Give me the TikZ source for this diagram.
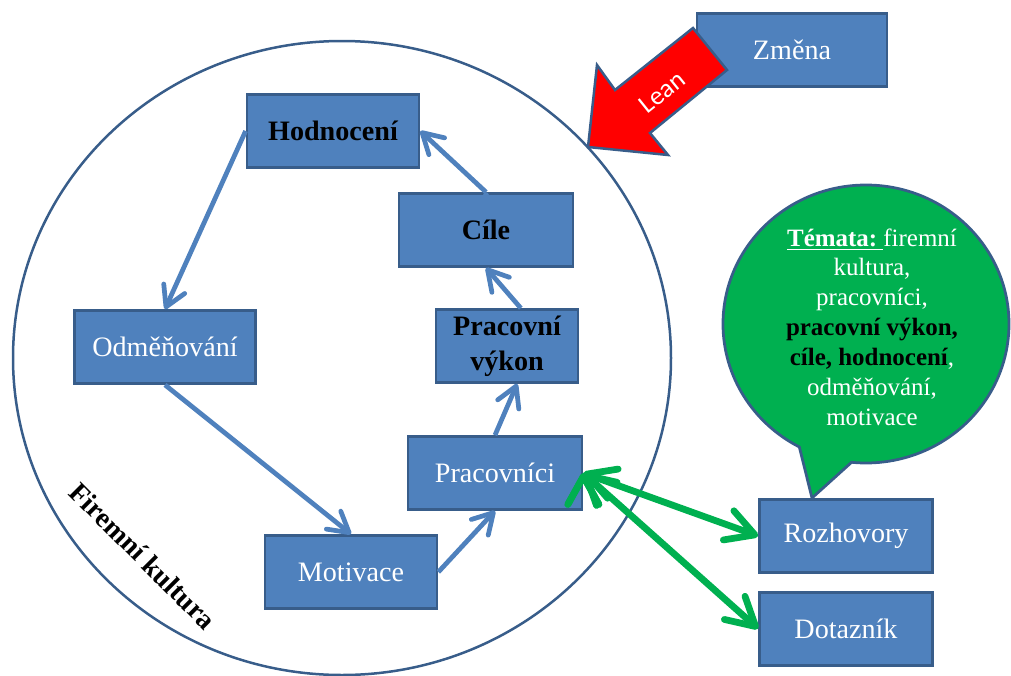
\documentclass[tikz,border=0pt]{standalone}
\usepackage{fontspec}
\setmainfont{Liberation Serif}
\newfontfamily\leanfont{Carlito}
\usetikzlibrary{positioning, arrows.meta, shapes.geometric, shapes.callouts}

\definecolor{boxfill}{HTML}{4F81BD}
\definecolor{boxline}{HTML}{385D8A}
\definecolor{talkgreen}{HTML}{00B050}

\begin{document}
\begin{tikzpicture}[
    x=0.2mm, y=-0.2mm,
    node distance=3.4mm,
    box/.style={draw=boxline, fill=boxfill, line width=0.55mm, minimum height=14.6mm,
        text=white, font=\fontsize{16}{20}\selectfont, align=center},
    keybox/.style={box, text=black, font=\fontsize{16}{20}\selectfont\bfseries},
    flow/.style={draw=boxfill, line width=0.95mm, -{Straight Barb[length=4mm, width=4.6mm, round]}},
    survey/.style={draw=talkgreen, line width=1.35mm,
        {Straight Barb[length=5.6mm, width=6.2mm, round]}-{Straight Barb[length=5.6mm, width=6.2mm, round]}}
]
    \useasboundingbox (0,0) rectangle (1011,676);

    % Culture
    \draw[boxline, line width=0.5mm] (342,358) ellipse [x radius=329, y radius=317];
    \node[rotate=-45, font=\fontsize{16}{20}\selectfont\bfseries] (kultura) at (143,556) {Firemní kultura};

    % Cycle
    \node[keybox, minimum width=34.4mm] (hod) at (333,131) {Hodnocení};
    \node[box, minimum width=36.2mm] (odm) at (165,347) {Odměňování};
    \node[box, minimum width=34.4mm] (mot) at (351,572) {Motivace};
    \node[box, minimum width=34.8mm] (prac) at (495,473) {Pracovníci};
    \node[keybox, minimum width=28.4mm] (vykon) at (507,346) {Pracovní\\výkon};
    \node[keybox, minimum width=34.8mm] (cile) at (486,230) {Cíle};

    % Research
    \node[box, minimum width=34.6mm] (roz) at (846,536) {Rozhovory};
    \node[box, minimum width=34.6mm, below=of roz] (dot) {Dotazník};

    % Topics
    \coordinate (tip) at (812,498);
    \node[ellipse callout, draw=boxline, fill=talkgreen, line width=0.55mm,
        minimum width=57.2mm, minimum height=55.6mm,
        callout absolute pointer=(tip), callout pointer arc=22] (bubble) at (866,324) {};
    \node[align=center, text=white, font=\fontsize{14.2}{17}\selectfont] (temata) at (872,327)
        {\underline{\textbf{Témata:}\ }firemní\\kultura,\\pracovníci,\\
         {\color{black}\bfseries pracovní výkon,}\\{\color{black}\bfseries cíle, hodnocení},\\
         odměňování,\\motivace};

    % Change
    \node[box, minimum width=38mm] (zmena) at (792,50) {Změna};
    \draw[boxline, line width=0.5mm, fill=red]
        (693,28) -- (727,70) -- (650,133) -- (668,155) -- (588,147) -- (597,65) -- (615,90) -- cycle;
    \node[rotate=38.8, text=white, font=\leanfont\fontsize{15}{18}\selectfont] (lean) at (662,92) {Lean};

    % Connections
    \path[flow]
        (hod.west) edge (odm.north)
        (odm.south) edge (mot.north)
        (mot.east) edge (prac.south)
        (prac.north) edge (vykon.-75)
        (vykon.70) edge (cile.south)
        (cile.north) edge (hod.east);
    \path[survey]
        (prac.east) edge (roz.west)
        (prac.east) edge (dot.west);
\end{tikzpicture}
\end{document}
